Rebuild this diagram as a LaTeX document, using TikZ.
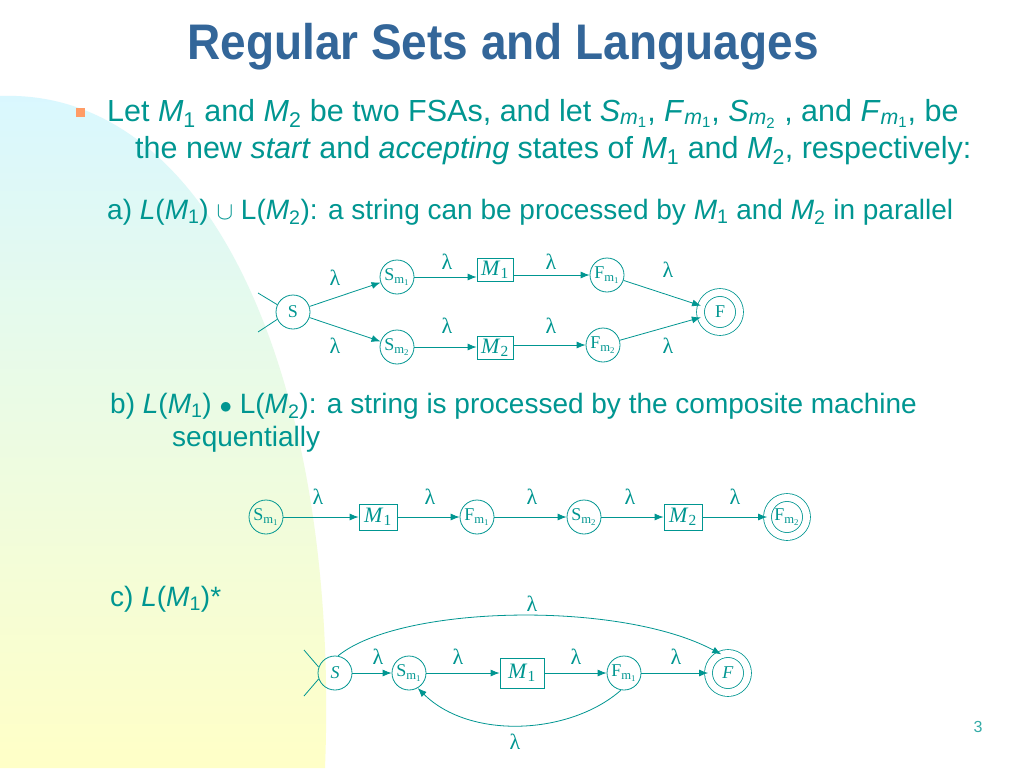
\documentclass[tikz,border=0pt]{standalone}
\usepackage{fontspec}
\setmainfont{Liberation Sans}
\newfontfamily\tnr{Liberation Serif}
\newfontfamily\titlefont[FakeStretch=0.92]{Liberation Sans}
\usetikzlibrary{arrows.meta}
\definecolor{teal}{RGB}{0,150,145}
\definecolor{titleblue}{RGB}{51,102,153}
\newcommand{\sub}[1]{\textsubscript{#1}}
\newcommand{\im}[1]{\textit{#1}}
\begin{document}
\begin{tikzpicture}[x=1pt,y=-1pt,
  st/.style={circle,draw=teal,thick,minimum size=34pt,inner sep=0pt,text=teal,font=\tnr\fontsize{18}{19}\selectfont},
  acc/.style={st,double=white,double distance=7pt,minimum size=39pt},
  mbox/.style={draw=teal,thick,minimum width=38pt,minimum height=26pt,inner sep=1pt,text=teal,font=\tnr\fontsize{22}{23}\selectfont},
  lam/.style={text=teal,font=\tnr\fontsize{22}{23}\selectfont},
  ar/.style={draw=teal,thick,-{Latex[length=9pt,width=7pt]}},
  txt/.style={anchor=base west,text=teal,inner sep=0pt}]
\path[use as bounding box] (0,0) rectangle (1024,768);
\fill[white] (0,0) rectangle (1024,768);
\shade[top color=blue!20!cyan!15!white, middle color=green!8!yellow!15!white, bottom color=yellow!22!white, shading angle=0]
  (0,96) .. controls (215,88) and (340,390) .. (325,768) -- (0,768) -- cycle;
\node[text=titleblue,font=\titlefont\bfseries\fontsize{50}{53}\selectfont] (title) at (503,47) {Regular Sets and Languages};
\fill[orange!70!red!60!white] (76,108) rectangle (85,117) coordinate (bul);
\begin{scope}[font=\fontsize{30.5}{34}\selectfont]
\node[txt] (l1) at (107,121) {Let \im{M}\sub{1} and \im{M}\sub{2} be two FSAs, and let \im{S}\sub{\im{m}\sub{1}}, \im{F}\sub{\im{m}\sub{1}}, \im{S}\sub{\im{m}\sub{2}} , and \im{F}\sub{\im{m}\sub{1}}, be};
\node[txt] (l2) at (135,158) {the new \im{start} and \im{accepting} states of \im{M}\sub{1} and \im{M}\sub{2}, respectively:};
\end{scope}
\begin{scope}[font=\fontsize{28}{32}\selectfont]
\node[txt] (ta) at (107,219) {a) \im{L}(\im{M}\sub{1}) $\cup$ L(\im{M}\sub{2}): a string can be processed by \im{M}\sub{1} and \im{M}\sub{2} in parallel};
\node[txt] (tb) at (110,413) {b) \im{L}(\im{M}\sub{1}) $\bullet$ L(\im{M}\sub{2}): a string is processed by the composite machine};
\node[txt] (tb2) at (172,446) {sequentially};
\node[txt] (tc) at (110,606) {c) \im{L}(\im{M}\sub{1})*};
\end{scope}
\node[text=teal!80!white,font=\fontsize{16}{18}\selectfont] (pg) at (978,727) {3};
% part a
\node[st] (aS) at (293,312) {S};
\node[st] (aSm1) at (397,277) {S\sub{m\sub{1}}};
\node[mbox,minimum width=36pt,minimum height=23pt] (aM1) at (495,270) {\im{M}\sub{1}};
\node[st] (aFm1) at (607,275) {F\sub{m\sub{1}}};
\node[acc] (aF) at (720,312) {F};
\node[st] (aSm2) at (397,347) {S\sub{m\sub{2}}};
\node[mbox,minimum width=36pt,minimum height=23pt] (aM2) at (495,348) {\im{M}\sub{2}};
\node[st] (aFm2) at (603,345) {F\sub{m\sub{2}}};
\coordinate (ai1) at (258,293); \coordinate (ai2) at (258,332);
\draw[teal,thick] (ai1) -- (aS.155) (ai2) -- (aS.205);
\draw[ar] (aS) -- (aSm1); \draw[ar] (aSm1) -- (aSm1 -| aM1.west);
\draw[ar] (aM1.east |- aFm1) -- (aFm1); \draw[ar] (aFm1) -- (aF);
\draw[ar] (aS) -- (aSm2); \draw[ar] (aSm2) -- (aSm2 -| aM2.west);
\draw[ar] (aM2.east |- aFm2) -- (aFm2); \draw[ar] (aFm2) -- (aF);
\foreach \x/\y [count=\i] in {335/278,447/262,551/262,668/270,335/346,447/326,551/326,668/346}
  \node[lam] (al\i) at (\x,\y) {λ};
% part b
\node[st] (bSm1) at (266,517) {S\sub{m\sub{1}}};
\node[mbox] (bM1) at (378,517) {\im{M}\sub{1}};
\node[st] (bFm1) at (477,517) {F\sub{m\sub{1}}};
\node[st] (bSm2) at (584,517) {S\sub{m\sub{2}}};
\node[mbox] (bM2) at (683,517) {\im{M}\sub{2}};
\node[acc] (bFm2) at (787,517) {F\sub{m\sub{2}}};
\draw[ar] (bSm1) -- (bM1); \draw[ar] (bM1) -- (bFm1); \draw[ar] (bFm1) -- (bSm2);
\draw[ar] (bSm2) -- (bM2); \draw[ar] (bM2) -- (bFm2);
\foreach \x [count=\i] in {318,430,532,630,735}
  \node[lam] (bl\i) at (\x,497) {λ};
% part c
\node[st] (cS) at (335,673) {\im{S}};
\node[st] (cSm1) at (409,673) {S\sub{m\sub{1}}};
\node[mbox,minimum width=44pt,minimum height=30pt] (cM1) at (522,673) {\im{M}\sub{1}};
\node[st] (cFm1) at (624,673) {F\sub{m\sub{1}}};
\node[acc] (cF) at (728,673) {\im{F}};
\coordinate (ci1) at (304,650); \coordinate (ci2) at (304,696);
\draw[teal,thick] (ci1) -- (cS.160) (ci2) -- (cS.200);
\draw[ar] (cS.80) .. controls (400,605) and (620,600) .. (cF.110);
\draw[ar] (cS) -- (cSm1); \draw[ar] (cSm1) -- (cM1); \draw[ar] (cM1) -- (cFm1); \draw[ar] (cFm1) -- (cF);
\draw[ar] (cFm1.260) .. controls (570,735) and (470,740) .. (cSm1.300);
\foreach \x [count=\i] in {378,458,576,676}
  \node[lam] (cl\i) at (\x,657) {λ};
\node[lam] (clt) at (532,604) {λ};
\node[lam] (clb) at (515,742) {λ};
\end{tikzpicture}
\end{document}
